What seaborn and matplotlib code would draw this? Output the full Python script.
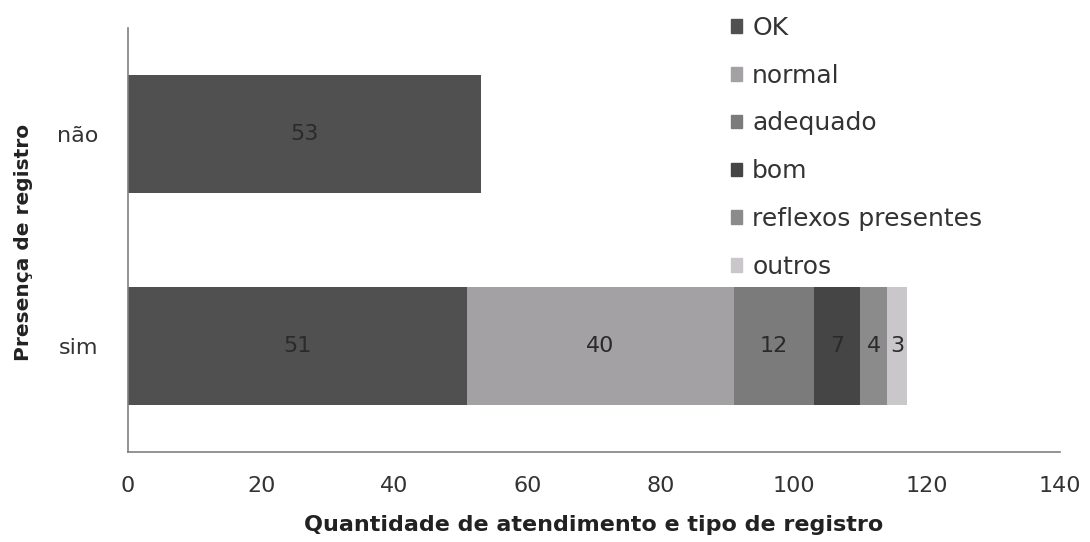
import numpy as np
import pandas as pd
import matplotlib.pyplot as plt
import seaborn as sns

# --- data ---
categories = ["não", "sim"]
series = ["OK", "normal", "adequado", "bom", "reflexos presentes", "outros"]
values_nao = [53, 0, 0, 0, 0, 0]
values_sim = [51, 40, 12, 7, 4, 3]
colors = ["#505050", "#a3a1a3", "#7b7b7b", "#454545", "#8c8b8c", "#c9c7c9"]

sns.set_style("white")
plt.rcParams['font.family'] = ['DejaVu Sans']

rows = []
for cat, vals in zip(categories, [values_nao, values_sim]):
    cum = np.cumsum(vals)
    for s, v, c in zip(series, vals, cum):
        rows.append({"cat": cat, "serie": s, "valor": v, "acum": c})
df = pd.DataFrame(rows)

fig = plt.figure(figsize=(10.9, 5.42), dpi=100)
ax = fig.add_axes([0.1174, 0.166, 0.855, 0.782])

# stacked bars: draw cumulative totals from the last series back to the first
handles = []
for s, col in reversed(list(zip(series, colors))):
    sub = df[df["serie"] == s]
    sns.barplot(data=sub, x="acum", y="cat", order=categories, color=col,
                width=0.56, orient="h", ax=ax, saturation=1, linewidth=0)
    handles.append(plt.Rectangle((0, 0), 1, 1, color=col, label=s))
handles = handles[::-1]

# value labels in the middle of each segment
for i, cat in enumerate(categories):
    sub = df[(df["cat"] == cat) & (df["valor"] > 0)]
    for _, r in sub.iterrows():
        ax.text(r["acum"] - r["valor"] / 2, i, f"{r['valor']:d}", ha="center",
                va="center", fontsize=16, color="#2a2a2a")

ax.set_xlim(0, 140)
ax.set_ylim(1.5, -0.5)
ax.set_xticks(np.arange(0, 141, 20))
ax.tick_params(axis="x", length=7.5, width=1.1, color="#808080", labelsize=16,
               labelcolor="#333333", pad=10)
ax.tick_params(axis="y", length=0, labelsize=16, labelcolor="#333333", pad=21)
for side in ["top", "right"]:
    ax.spines[side].set_visible(False)
for side in ["left", "bottom"]:
    ax.spines[side].set_color("#808080")
    ax.spines[side].set_linewidth(1.2)

ax.set_xlabel("Quantidade de atendimento e tipo de registro", fontsize=16,
              fontweight="bold", color="#222222")
ax.xaxis.set_label_coords(0.5, -0.148)
ax.set_ylabel("Presença de registro", fontsize=14.5, fontweight="bold",
              color="#222222")
ax.yaxis.set_label_coords(-0.102, 0.495)

fig.legend(handles=handles, loc="upper left", bbox_to_anchor=(0.65, 1.012),
           frameon=False, fontsize=18, handlelength=0.45, handleheight=0.45,
           handletextpad=0.4, labelspacing=0.95, labelcolor="#333333")

fig.savefig("out.png", dpi=100)
